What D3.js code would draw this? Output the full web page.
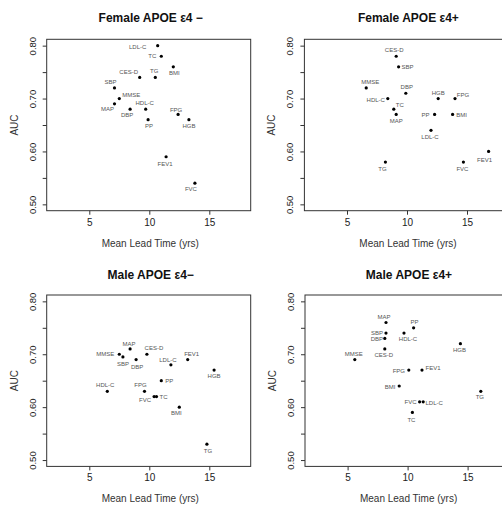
<!DOCTYPE html>
<html>
<head>
<meta charset="utf-8">
<script src="https://cdn.jsdelivr.net/npm/d3@7"></script>
<style>
  body { margin: 0; background: #fff; }
  svg { display: block; font-family: "Liberation Sans", Arial, sans-serif; }
</style>
</head>
<body>
<div id="chart"></div>
<script>
// ---- data ----
const panelTitles = ["Female APOE \u03b54 \u2212", "Female APOE \u03b54+", "Male APOE \u03b54\u2212", "Male APOE \u03b54+"];
const xTicks = [5, 10, 15];
const yTicks = [0.50, 0.55, 0.60, 0.65, 0.70, 0.75, 0.80];

// Female e4-
const fNegVar  = ["LDL-C", "TC", "BMI", "CES-D", "TG", "SBP", "MMSE", "MAP", "DBP", "HDL-C", "PP", "FPG", "HGB", "FEV1", "FVC"];
const fNegLead = [10.7, 11.0, 12.0, 9.2, 10.5, 7.1, 7.5, 7.1, 8.4, 9.7, 9.9, 12.4, 13.3, 11.4, 13.8];
const fNegAUC  = [0.80, 0.78, 0.76, 0.74, 0.74, 0.72, 0.70, 0.69, 0.68, 0.68, 0.66, 0.67, 0.66, 0.59, 0.54];

// Female e4+
const fPosVar  = ["CES-D", "SBP", "MMSE", "DBP", "HDL-C", "TC", "MAP", "HGB", "FPG", "PP", "BMI", "LDL-C", "TG", "FVC", "FEV1"];
const fPosLead = [9.1, 9.3, 6.6, 9.9, 8.4, 8.9, 9.1, 12.6, 14.0, 12.3, 13.8, 12.0, 8.2, 14.7, 16.8];
const fPosAUC  = [0.78, 0.76, 0.72, 0.71, 0.70, 0.68, 0.67, 0.70, 0.70, 0.67, 0.67, 0.64, 0.58, 0.58, 0.60];

// Male e4-
const mNegVar  = ["MAP", "MMSE", "SBP", "CES-D", "DBP", "LDL-C", "FEV1", "HGB", "HDL-C", "FPG", "PP", "FVC", "TC", "BMI", "TG"];
const mNegLead = [8.4, 7.5, 7.8, 9.8, 8.9, 11.8, 13.2, 15.4, 6.5, 9.6, 11.0, 10.4, 10.6, 12.5, 14.8];
const mNegAUC  = [0.71, 0.70, 0.695, 0.70, 0.69, 0.68, 0.69, 0.67, 0.63, 0.63, 0.65, 0.62, 0.62, 0.60, 0.53];

// Male e4+
const mPosVar  = ["MAP", "PP", "SBP", "HDL-C", "DBP", "CES-D", "HGB", "MMSE", "FPG", "FEV1", "BMI", "FVC", "LDL-C", "TC", "TG"];
const mPosLead = [8.2, 10.5, 8.2, 9.7, 8.1, 8.1, 14.4, 5.6, 10.1, 11.2, 9.3, 11.0, 11.3, 10.4, 16.1];
const mPosAUC  = [0.76, 0.75, 0.74, 0.74, 0.73, 0.71, 0.72, 0.69, 0.67, 0.67, 0.64, 0.61, 0.61, 0.59, 0.63];

// ---- label nudges (px from the dot, same order as the arrays above) ----
const fNegNudge = [[-20, 1], [-9, 0], [1, 6], [-11, -5], [-1, -6], [-4, -6], [12, -4], [-7, 5], [-3, 6], [-1, -6], [1, 6], [-2, -5], [0, 6], [-1, 7], [-4, 6]];
const fPosNudge = [[-2, -6], [9, 0], [4, -6], [1, -6], [-12, 1], [6, -4], [0, 6], [0, -6], [8, -4], [-9, 0], [9, 0], [-1, 7], [-3, 7], [-1, 7], [-4, 8]];
const mNegNudge = [[-1, -5], [-14, 0], [0, 7], [7, -6], [1, 7], [-3, -5], [4, -6], [0, 6], [-2, -6], [-4, -6], [8, 0], [-9, 3], [7, 0], [-3, 6], [1, 7]];
const mPosNudge = [[-2, -6], [1, -6], [-9, -0.5], [4, 6], [-8, 0.5], [-1, 6], [-1, 6], [-1, -6], [-10, 1], [11, -2], [-9, 1], [-9, 0], [11, 1], [-1, 7], [-1, 6]];

const panels = [
  { title: panelTitles[0], vars: fNegVar, lead: fNegLead, auc: fNegAUC, nudge: fNegNudge, left: 46.7, top: 39.3, titleY: 21.5 },
  { title: panelTitles[1], vars: fPosVar, lead: fPosLead, auc: fPosAUC, nudge: fPosNudge, left: 304.4, top: 39.3, titleY: 21.5 },
  { title: panelTitles[2], vars: mNegVar, lead: mNegLead, auc: mNegAUC, nudge: mNegNudge, left: 46.7, top: 295, titleY: 278.5 },
  { title: panelTitles[3], vars: mPosVar, lead: mPosLead, auc: mPosAUC, nudge: mPosNudge, left: 305, top: 295, titleY: 278.5 }
];

const W = 502, H = 506;
const boxW = 204, boxH = 171.4;

const svg = d3.select("#chart").append("svg")
  .attr("width", W)
  .attr("height", H);

panels.forEach(p => {
  const x = d3.scaleLinear().domain([1.45, 18.45]).range([0, boxW]);
  const y = d3.scaleLinear().domain([0.488, 0.812]).range([boxH, 0]);

  const g = svg.append("g").attr("transform", `translate(${p.left},${p.top})`);

  // title
  svg.append("text")
    .attr("x", p.left + boxW / 2 + 2)
    .attr("y", p.titleY)
    .attr("text-anchor", "middle")
    .style("font-size", "12px")
    .style("font-weight", "bold")
    .style("fill", "#111")
    .text(p.title);

  // x axis
  const xa = g.append("g")
    .attr("transform", `translate(0,${boxH})`)
    .call(d3.axisBottom(x).tickValues(xTicks).tickSize(4).tickSizeOuter(0).tickPadding(4));
  xa.select(".domain").remove();
  xa.selectAll("line").attr("stroke", "#333");
  xa.selectAll("text").style("font-size", "10px").style("fill", "#222");

  // y axis, labels rotated like base R
  const ya = g.append("g")
    .call(d3.axisLeft(y).tickValues(yTicks).tickSize(4).tickSizeOuter(0)
      .tickFormat(d => Math.round(d * 100) % 10 === 0 ? d3.format(".2f")(d) : ""));
  ya.select(".domain").remove();
  ya.selectAll("line").attr("stroke", "#333");
  ya.selectAll("text")
    .attr("transform", "rotate(-90)")
    .attr("x", 0)
    .attr("y", -11)
    .attr("dy", 0)
    .attr("text-anchor", "middle")
    .style("font-size", "9.5px")
    .style("fill", "#222");

  // box
  g.append("rect")
    .attr("width", boxW)
    .attr("height", boxH)
    .attr("fill", "none")
    .attr("stroke", "#333")
    .attr("stroke-width", 1);

  // axis titles
  g.append("text")
    .attr("x", x(10) + 1)
    .attr("y", boxH + 36)
    .attr("text-anchor", "middle")
    .style("font-size", "10px")
    .style("fill", "#333")
    .text("Mean Lead Time (yrs)");

  g.append("text")
    .attr("transform", `translate(-29,${boxH / 2}) rotate(-90)`)
    .attr("text-anchor", "middle")
    .style("font-size", "10px")
    .style("fill", "#333")
    .text("AUC");

  // points
  const pts = p.vars.map((v, i) => ({ name: v, lead: p.lead[i], auc: p.auc[i], nudge: p.nudge[i] }));

  g.selectAll("circle.pt")
    .data(pts)
    .join("circle")
    .attr("class", "pt")
    .attr("cx", d => x(d.lead))
    .attr("cy", d => y(d.auc))
    .attr("r", 1.6)
    .attr("fill", "#000");

  g.selectAll("text.lbl")
    .data(pts)
    .join("text")
    .attr("class", "lbl")
    .attr("x", d => x(d.lead) + d.nudge[0])
    .attr("y", d => y(d.auc) + d.nudge[1])
    .attr("dy", "0.35em")
    .attr("text-anchor", "middle")
    .style("font-size", "6px")
    .style("fill", "#555")
    .text(d => d.name);
});
</script>
</body>
</html>
